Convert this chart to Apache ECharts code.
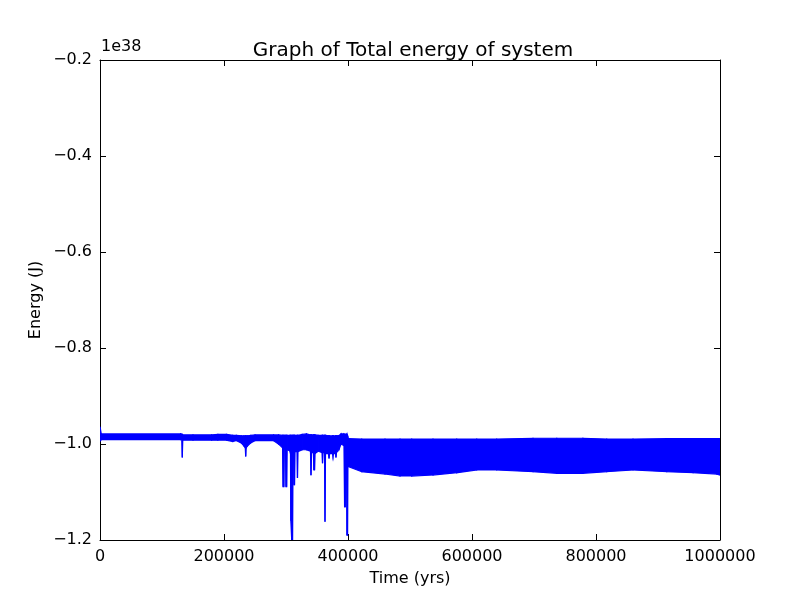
<!DOCTYPE html>
<html>
<head>
<meta charset="utf-8">
<script src="https://cdn.jsdelivr.net/npm/echarts@6/dist/echarts.min.js"></script>
<style>
html,body{margin:0;padding:0;background:#fff;}
#chart{width:800px;height:600px;}
</style>
</head>
<body>
<div id="chart"></div>
<script>
// Values in units of 1e38 J (upper / lower edge of the oscillating energy trace)
const timeYrs = [0, 2000, 130000, 132000, 132700, 133500, 150000, 180000, 190000, 204000, 214000, 220000, 228000, 232000, 234300, 235000, 235700, 238000, 243000, 250000, 280000, 288000, 294500, 295300, 296500, 297300, 299200, 300000, 301000, 301800, 306000, 307200, 307800, 309200, 310500, 311300, 312300, 312900, 313700, 314500, 317800, 318500, 319300, 326000, 333000, 339500, 340300, 341300, 344300, 345000, 346000, 346800, 352000, 358200, 358900, 359700, 362200, 362900, 363700, 368500, 369400, 370300, 375000, 375800, 376600, 380000, 380600, 381400, 386000, 388700, 393500, 394500, 395500, 396200, 397600, 398400, 399200, 399800, 400500, 422100, 459700, 483900, 502700, 537100, 575300, 607600, 639800, 698400, 736600, 779000, 817300, 859700, 914000, 956500, 994700, 1000000];
const energyUpper = [-0.964, -0.979, -0.979, -0.980, -0.980, -0.981, -0.981, -0.981, -0.980, -0.980, -0.982, -0.982, -0.983, -0.983, -0.983, -0.983, -0.983, -0.983, -0.982, -0.981, -0.981, -0.981, -0.982, -0.982, -0.982, -0.982, -0.982, -0.982, -0.982, -0.982, -0.982, -0.982, -0.982, -0.982, -0.982, -0.982, -0.982, -0.982, -0.982, -0.982, -0.982, -0.982, -0.982, -0.980, -0.979, -0.981, -0.981, -0.981, -0.981, -0.981, -0.981, -0.981, -0.982, -0.982, -0.982, -0.982, -0.982, -0.982, -0.982, -0.983, -0.983, -0.983, -0.983, -0.983, -0.983, -0.983, -0.983, -0.983, -0.982, -0.979, -0.979, -0.980, -0.980, -0.980, -0.980, -0.981, -0.983, -0.985, -0.989, -0.9896, -0.9896, -0.9896, -0.9896, -0.9896, -0.9896, -0.9896, -0.9896, -0.988, -0.988, -0.988, -0.9896, -0.9896, -0.989, -0.989, -0.989, -0.989];
const energyLower = [-0.994, -0.991, -0.991, -0.991, -1.028, -0.992, -0.992, -0.992, -0.992, -0.992, -0.995, -0.993, -0.998, -1.004, -1.008, -1.026, -1.008, -1.004, -0.998, -0.993, -0.993, -1.000, -1.008, -1.089, -1.089, -1.010, -1.010, -1.089, -1.089, -1.012, -1.014, -1.020, -1.160, -1.200, -1.200, -1.020, -1.018, -1.085, -1.085, -1.016, -1.016, -1.071, -1.016, -1.012, -1.012, -1.015, -1.065, -1.018, -1.018, -1.054, -1.054, -1.020, -1.015, -1.018, -1.040, -1.018, -1.018, -1.162, -1.020, -1.020, -1.030, -1.020, -1.020, -1.025, -1.020, -1.020, -1.028, -1.018, -1.010, -1.000, -1.003, -1.131, -1.131, -1.010, -1.010, -1.190, -1.190, -1.040, -1.047, -1.0577, -1.0625, -1.0667, -1.0667, -1.0646, -1.0598, -1.0542, -1.0542, -1.0577, -1.0610, -1.0610, -1.0577, -1.0542, -1.0577, -1.0598, -1.0625, -1.0646];
const xTicks = [0, 200000, 400000, 600000, 800000, 1000000];
const yTicks = [-1.2, -1.0, -0.8, -0.6, -0.4, -0.2];

const FONT = 'DejaVu Sans';
const BLUE = '#0000ff';
const bandData = timeYrs.map((t, i) => [t, energyUpper[i], energyLower[i]]);
const fmtY = v => v.toFixed(1).replace('-', '\u2212');

const chart = echarts.init(document.getElementById('chart'), null, {renderer: 'canvas'});
const commonX = {
  type: 'value', min: xTicks[0], max: xTicks[xTicks.length - 1], interval: 200000,
  axisLine: {show: true, onZero: false, lineStyle: {color: '#000', width: 1}},
  axisTick: {show: true, inside: true, length: 6, lineStyle: {color: '#000'}},
  splitLine: {show: false}
};
const commonY = {
  type: 'value', min: yTicks[0], max: yTicks[yTicks.length - 1], interval: 0.2,
  axisLine: {show: true, onZero: false, lineStyle: {color: '#000', width: 1}},
  axisTick: {show: true, inside: true, length: 6, lineStyle: {color: '#000'}},
  splitLine: {show: false}
};

function renderBand(params, api) {
  const i = params.dataIndex;
  if (i >= bandData.length - 1) return null;
  const a = bandData[i], b = bandData[i + 1];
  const pts = [
    api.coord([a[0], a[1]]), api.coord([b[0], b[1]]),
    api.coord([b[0], b[2]]), api.coord([a[0], a[2]])
  ];
  return {
    type: 'polygon',
    shape: {points: pts},
    style: {fill: BLUE, stroke: BLUE, lineWidth: 1.2}
  };
}

chart.setOption({
  animation: false,
  backgroundColor: '#fff',
  title: {
    text: 'Graph of Total energy of system',
    left: 408, top: 36, textAlign: 'center',
    textStyle: {fontFamily: FONT, fontSize: 20, fontWeight: 'normal', color: '#000'}
  },
  graphic: [{
    type: 'text', left: 101, top: 39,
    style: {text: '1e38', fontFamily: FONT, fontSize: 16, fill: '#000'}
  }],
  grid: {left: 100, right: 80, top: 60, bottom: 60, containLabel: false},
  xAxis: [
    Object.assign({}, commonX, {
      position: 'bottom', name: 'Time (yrs)', nameLocation: 'middle', nameGap: 31,
      nameMoveOverlap: false,
      nameTextStyle: {fontFamily: FONT, fontSize: 16, color: '#000'},
      axisLabel: {show: true, margin: 9, fontFamily: FONT, fontSize: 16, color: '#000',
        formatter: v => String(Math.round(v))}
    }),
    Object.assign({}, commonX, {position: 'top', axisLabel: {show: false}})
  ],
  yAxis: [
    Object.assign({}, commonY, {
      position: 'left', name: 'Energy (J)', nameLocation: 'middle', nameGap: 56,
      nameMoveOverlap: false,
      nameTextStyle: {fontFamily: FONT, fontSize: 16, color: '#000'},
      axisLabel: {show: true, margin: 8, fontFamily: FONT, fontSize: 16, color: '#000', formatter: fmtY}
    }),
    Object.assign({}, commonY, {position: 'right', axisLabel: {show: false}})
  ],
  series: [
    {
      type: 'custom', name: 'Total energy', data: bandData,
      encode: {x: 0, y: [1, 2]},
      clip: true,
      renderItem: renderBand
    }
  ]
});
</script>
</body>
</html>
